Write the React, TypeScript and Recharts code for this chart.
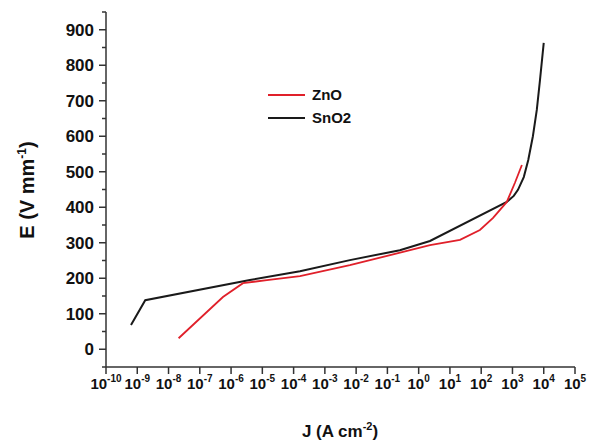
import { LineChart, Line, XAxis, YAxis } from "recharts";

const FONT = "Arial, 'Liberation Sans', sans-serif";
const AXIS = "#333";

// J (A cm^-2) and E (V mm^-1)
const znoJ = [2.1e-8, 5.5e-7, 2.4e-6, 1.4e-5, 1.6e-4, 6.3e-3, 2.3, 21, 91, 240, 660, 1200, 2000];
const znoE = [31, 147, 186, 195, 206, 237, 293, 308, 336, 370, 415, 469, 519];

const sno2J = [6.3e-10, 1.8e-9, 4e-6, 1.6e-4, 6.3e-3, 0.25, 2.3, 660, 1100, 1500, 2300, 3200, 4500, 6000, 7600, 1e4];
const sno2E = [68, 138, 195, 220, 251, 279, 305, 415, 432, 449, 485, 533, 600, 674, 759, 863];

const xTicks = [1e-10, 1e-9, 1e-8, 1e-7, 1e-6, 1e-5, 1e-4, 1e-3, 1e-2, 1e-1, 1, 10, 100, 1e3, 1e4, 1e5];
const yTicks = [-50, 0, 50, 100, 150, 200, 250, 300, 350, 400, 450, 500, 550, 600, 650, 700, 750, 800, 850, 900, 950];

const zno = znoJ.map((j, i) => ({ j, e: znoE[i] }));
const sno2 = sno2J.map((j, i) => ({ j, e: sno2E[i] }));

function XTick({ x, y, payload }: any) {
  const exp = Math.round(Math.log10(payload.value));
  return (
    <g>
      <line x1={x} x2={x} y1={y} y2={y + 7} stroke={AXIS} strokeWidth={1.5} />
      <text x={x} y={y + 22} textAnchor="middle" fontFamily={FONT} fontWeight={700} fontSize={15} fill="#111">
        <tspan>10</tspan>
        <tspan dy={-7} fontSize={10}>{exp}</tspan>
      </text>
    </g>
  );
}

function YTick({ x, y, payload }: any) {
  const major = payload.value % 100 === 0 && payload.value >= 0 && payload.value <= 900;
  return (
    <g>
      <line x1={x} x2={x - (major ? 7 : 4)} y1={y} y2={y} stroke={AXIS} strokeWidth={1.5} />
      {major && (
        <text x={x - 12} y={y + 6} textAnchor="end" fontFamily={FONT} fontWeight={700} fontSize={17} fill="#111">
          {payload.value}
        </text>
      )}
    </g>
  );
}

export default function App() {
  return (
    <div style={{ position: "absolute", left: 0, top: 0, width: 589, height: 441, background: "#fff" }}>
      <LineChart width={589} height={441} margin={{ top: 12, right: 14, left: 0, bottom: 0 }}>
        <XAxis
          type="number"
          dataKey="j"
          scale="log"
          domain={[1e-10, 1e5]}
          ticks={xTicks}
          interval={0}
          height={74}
          tickSize={0}
          tickMargin={0}
          tickLine={false}
          tick={<XTick />}
          axisLine={{ stroke: AXIS, strokeWidth: 1.5 }}
          allowDataOverflow
          label={{
            content: () => (
              <text x={340} y={437} textAnchor="middle" fontFamily={FONT} fontWeight={700} fontSize={17} fill="#111">
                <tspan>J (A cm</tspan>
                <tspan dy={-7} fontSize={11}>-2</tspan>
                <tspan dy={7}>)</tspan>
              </text>
            ),
          }}
        />
        <YAxis
          type="number"
          dataKey="e"
          domain={[-50, 950]}
          ticks={yTicks}
          interval={0}
          width={106}
          tickSize={0}
          tickMargin={0}
          tickLine={false}
          tick={<YTick />}
          axisLine={{ stroke: AXIS, strokeWidth: 1.5 }}
          allowDataOverflow
          label={{
            content: () => (
              <text
                x={0}
                y={0}
                transform="translate(34 190) rotate(-90)"
                textAnchor="middle"
                fontFamily={FONT}
                fontWeight={700}
                fontSize={20}
                fill="#111"
              >
                <tspan>E (V mm</tspan>
                <tspan dy={-8} fontSize={12}>-1</tspan>
                <tspan dy={8}>)</tspan>
              </text>
            ),
          }}
        />
        <Line data={sno2} dataKey="e" name="SnO2" type="linear" stroke="#1a1a1a" strokeWidth={2} dot={false} isAnimationActive={false} />
        <Line data={zno} dataKey="e" name="ZnO" type="linear" stroke="#e0202a" strokeWidth={1.8} dot={false} isAnimationActive={false} />
      </LineChart>
      <div style={{ position: "absolute", left: 268, top: 83, fontFamily: FONT, fontWeight: 700, fontSize: 15, color: "#111", lineHeight: "23px" }}>
        {[
          { name: "ZnO", color: "#e0202a" },
          { name: "SnO2", color: "#1a1a1a" },
        ].map((s) => (
          <div key={s.name} style={{ display: "flex", alignItems: "center" }}>
            <span style={{ display: "inline-block", width: 37, height: 2, background: s.color, marginRight: 7 }} />
            {s.name}
          </div>
        ))}
      </div>
    </div>
  );
}
